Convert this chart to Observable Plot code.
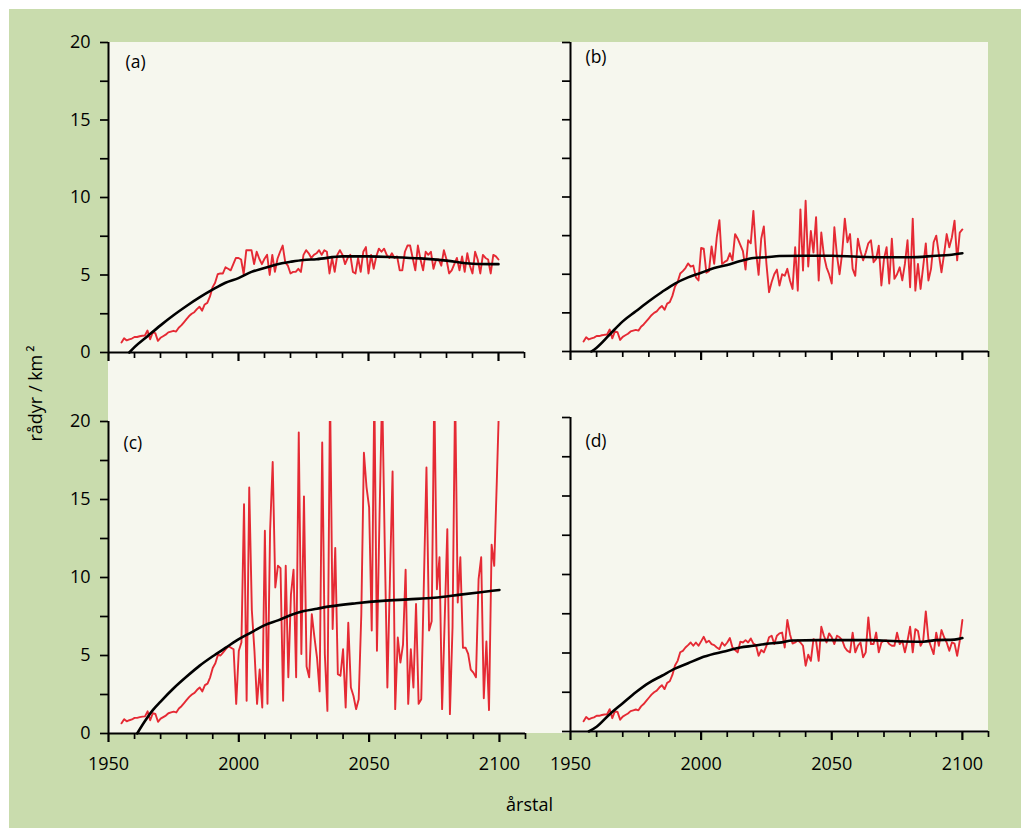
<!DOCTYPE html>
<html>
<head>
<meta charset="utf-8">
<script src="https://cdn.jsdelivr.net/npm/d3@7"></script>
<script src="https://cdn.jsdelivr.net/npm/@observablehq/plot@0.6"></script>
<style>
  body { margin: 0; background: #ffffff; }
  #wrap { position: relative; width: 1021px; height: 828px; overflow: hidden; }
  #green { position: absolute; left: 9px; top: 9px; right: 0; bottom: 0; background: #c9dcad; }
  #light { position: absolute; left: 108px; top: 42px; width: 880px; height: 691px; background: #f6f7ee; }
  #wrap > svg { position: absolute; left: 0; top: 0; }
</style>
</head>
<body>
<div id="wrap"><div id="green"></div><div id="light"></div></div>
<script>
// ---------- data ----------
const RED_START = 1955;          // first simulated year (red series)
const FUTURE_START = 1993;       // year where the four scenarios diverge

// common history 1955–1992
const redHistory = [0.65,0.92,0.78,0.85,0.9,
  1.0,1.0,1.05,1.08,1.1,1.42,0.85,1.3,1.25,0.75,
  0.95,1.05,1.15,1.3,1.35,1.4,1.35,1.6,1.75,1.95,
  2.15,2.35,2.5,2.6,2.8,2.95,2.7,3.1,3.2,3.6,
  4.2,4.5,5.05];

// scenario (a) 1993–2100
const redA = [5.1,5.1,5.5,5.4,5.3,5.7,6.1,
  6.1,6.0,5.05,6.6,6.6,6.6,5.7,6.5,6.05,5.7,
  6.05,6.3,5.0,6.3,5.2,6.05,6.5,6.9,5.8,5.6,
  5.1,5.2,5.2,5.4,5.2,6.3,6.6,6.4,6.1,6.3,
  6.4,6.6,6.3,6.6,6.5,5.1,6.1,5.2,6.3,6.6,
  6.3,5.7,6.1,6.3,5.2,5.1,6.1,5.2,6.5,6.8,
  5.1,6.3,5.4,6.2,6.7,6.5,6.7,6.3,6.1,6.4,
  6.1,6.2,5.3,5.3,6.5,6.9,6.9,6.1,5.3,6.9,
  6.0,5.3,6.5,6.3,6.5,5.4,6.0,6.0,5.6,6.6,
  6.0,5.1,5.3,5.7,6.1,5.3,6.2,5.2,6.4,5.6,
  5.1,6.5,6.0,5.1,6.3,6.1,6.0,5.1,6.3,6.2,
  6.0];

// scenario (b) 1993–2100
const redB = [5.2,5.4,5.7,5.5,5.56,4.8,4.6,
  6.7,6.65,5.1,5.2,6.8,5.67,7.4,8.5,5.67,5.8,
  5.9,6.36,5.9,7.6,7.3,6.9,6.5,5.3,7.2,7.0,
  9.1,6.5,4.96,7.3,8.1,5.67,3.84,4.5,5.0,5.3,
  4.27,5.0,4.9,5.35,4.6,4.05,6.75,3.94,9.2,5.24,
  9.76,5.5,7.8,6.4,8.7,4.6,7.7,6.2,5.45,5.0,
  4.4,8.04,6.2,5.0,6.4,8.6,7.07,7.6,5.35,4.9,
  7.3,6.5,5.9,6.4,7.0,7.2,5.78,6.0,6.85,4.27,
  6.0,6.75,4.4,7.3,4.7,5.0,5.45,4.6,5.67,7.2,
  4.16,8.6,3.94,5.67,4.05,5.5,7.0,4.6,5.35,7.07,
  7.5,6.3,5.13,6.3,7.6,6.75,7.4,8.47,5.9,7.7,
  7.9];

// scenario (c) 1993–2100 (values above 20 leave the panel)
const redC = [5.0,5.2,5.4,5.6,5.5,5.4,1.9,
  5.3,5.83,14.7,2.1,15.77,7.9,5.3,1.9,4.1,1.67,
  13.0,1.9,13.0,17.4,9.36,10.75,10.6,2.1,10.75,3.6,
  8.9,10.5,3.6,19.3,5.1,15.2,4.3,3.6,7.65,6.2,
  4.87,2.7,18.65,5.1,1.45,22,6.7,11.9,3.8,3.7,
  5.4,1.67,7.1,2.95,2.4,1.56,2.2,7.65,18.0,15.8,
  14.5,6.6,22,5.3,14,22,12,2.95,10,16.8,
  1.56,6.15,4.55,5.7,10.5,1.9,5.4,2.95,8.3,1.9,
  2.2,9.6,17.05,6.6,7.2,22,9.25,11.3,1.56,7.3,
  13.1,1.24,6.8,22,8.4,11.3,5.5,5.5,5.1,4.1,
  3.9,3.6,9.9,11.3,2.26,5.9,1.5,12.1,10.75,16.2,
  22];

// scenario (d) 1993–2100
const redD = [5.14,5.35,5.5,5.67,5.46,5.67,5.46,
  5.74,6.03,5.67,5.78,5.57,5.5,5.35,5.25,5.67,5.46,
  5.67,5.95,5.35,5.19,5.04,5.72,5.67,5.82,5.67,5.93,
  5.6,5.5,4.82,5.19,5.04,5.46,6.0,6.1,5.57,6.1,
  6.25,6.3,5.35,7.1,6.2,5.6,5.67,5.82,5.67,5.46,
  4.19,4.89,4.5,5.88,5.78,4.5,6.67,6.1,5.67,6.25,
  6.0,5.57,6.1,6.0,5.82,5.35,5.14,5.04,6.3,5.04,
  5.46,5.67,4.72,5.04,7.27,5.57,5.57,6.3,5.04,5.67,
  5.78,5.8,5.57,5.46,5.46,6.3,5.57,5.78,5.04,5.78,
  6.67,5.04,6.52,6.4,5.46,5.78,7.65,5.88,5.4,4.93,
  6.3,5.46,6.46,6.0,5.67,5.14,5.67,5.6,4.82,5.78,
  7.1];

// smooth (black) curves
const blackAYears = [1958,1960,1965,1970,1975,1980,1985,1990,1995,2000,2005,2010,2015,2020,2025,2030,2040,2050,2060,2070,2080,2090,2100];
const blackAVals  = [0,0.35,1.05,1.75,2.4,3.0,3.55,4.05,4.5,4.8,5.2,5.45,5.7,5.85,5.97,6.02,6.2,6.2,6.15,6.07,5.93,5.73,5.7];
const blackBYears = [1958,1960,1965,1970,1975,1980,1985,1990,1995,2000,2005,2010,2015,2020,2025,2030,2040,2050,2060,2070,2080,2090,2095,2100];
const blackBVals  = [0,0.25,1.1,1.95,2.6,3.25,3.85,4.4,4.8,5.1,5.4,5.6,5.85,6.05,6.1,6.18,6.2,6.2,6.13,6.1,6.1,6.2,6.25,6.36];
const blackCYears = [1961,1964,1967,1970,1975,1980,1985,1990,1995,2000,2005,2010,2015,2020,2025,2030,2035,2045,2055,2065,2075,2085,2092,2100];
const blackCVals  = [0,0.8,1.5,2.05,2.9,3.65,4.35,4.95,5.5,6.05,6.5,6.95,7.25,7.6,7.85,8.0,8.15,8.35,8.5,8.6,8.7,8.9,9.04,9.2];
const blackDYears = [1957,1960,1965,1970,1975,1980,1985,1990,1995,2000,2005,2010,2015,2020,2025,2030,2035,2045,2065,2075,2085,2090,2097,2100];
const blackDVals  = [0,0.3,1.1,1.8,2.5,3.1,3.55,4.0,4.35,4.7,4.95,5.15,5.35,5.46,5.58,5.66,5.8,5.82,5.82,5.75,5.72,5.82,5.85,5.95];

// axes
const yTickValues  = [0,2.5,5,7.5,10,12.5,15,17.5,20];
const yLabelValues = [0,5,10,15,20];
const xMinorValues = [1960,1970,1980,1990,2010,2020,2030,2040,2060,2070,2080,2090,2110];
const xMajorValues = [1950,2000,2050,2100];
const panelTags = ["(a)","(b)","(c)","(d)"];
const xTitle = "årstal";
const yTitle = "rådyr / km\u2009²";

// ---------- build ----------
const W = 1021, H = 828;
const RED = "#e52a34";
const table = (start, vals) => vals.map((v, i) => ({year: start + i, value: v}));
const pairs = (ys, vs) => ys.map((y, i) => ({year: y, value: vs[i]}));

function panel({red, black, frame, tag, tagDx, tagDy, yLabels, xLabels, extra = []}) {
  const [left, right, top, bottom] = frame;
  return Plot.plot({
    width: W, height: H,
    marginLeft: left, marginRight: W - right, marginTop: top, marginBottom: H - bottom,
    x: {domain: [1950, 2110], label: null},
    y: {domain: [0, 20], label: null},
    style: {background: "transparent", fontFamily: "'Open Sans', sans-serif", fontSize: "18px", color: "#000", overflow: "visible"},
    marks: [
      Plot.line(red, {x: "year", y: "value", stroke: RED, strokeWidth: 1.9, clip: true}),
      Plot.line(black, {x: "year", y: "value", stroke: "#000", strokeWidth: 2.6, curve: "monotone-x"}),
      Plot.ruleY([0], {stroke: "#000", strokeWidth: 2}),
      Plot.ruleX([1950], {stroke: "#000", strokeWidth: 2}),
      Plot.axisY(yTickValues, {tickSize: 8, strokeWidth: 1.7, fill: "none", label: null}),
      yLabels ? Plot.axisY(yLabelValues, {tickSize: 0, tickPadding: 18, label: null, tickFormat: d => String(d)}) : null,
      Plot.axisX(xMinorValues, {tickSize: 6, strokeWidth: 1.7, fill: "none", label: null}),
      Plot.axisX(xMajorValues, {tickSize: 9, strokeWidth: 2.2, fill: "none", label: null}),
      xLabels ? Plot.axisX(xMajorValues, {tickSize: 0, tickPadding: 757 - bottom, label: null, tickFormat: d => String(d)}) : null,
      Plot.text([tag], {frameAnchor: "top-left", dx: tagDx, dy: tagDy, textAnchor: "start", lineAnchor: "top", fontSize: 17.5}),
      ...extra
    ]
  });
}

const wrap = document.getElementById("wrap");

wrap.appendChild(panel({
  red: table(RED_START, redHistory.concat(redA)),
  black: pairs(blackAYears, blackAVals),
  frame: [108, 524, 42, 352], tag: panelTags[0], tagDx: 17, tagDy: 13,
  yLabels: true, xLabels: false,
  extra: [Plot.text([yTitle], {frameAnchor: "top-left", dx: -72, dy: 351, rotate: -90, textAnchor: "middle", lineAnchor: "middle", fontSize: 18})]
}));

wrap.appendChild(panel({
  red: table(RED_START, redHistory.concat(redB)),
  black: pairs(blackBYears, blackBVals),
  frame: [570, 988, 42, 351], tag: panelTags[1], tagDx: 15, tagDy: 8,
  yLabels: false, xLabels: false
}));

wrap.appendChild(panel({
  red: table(RED_START, redHistory.concat(redC)),
  black: pairs(blackCYears, blackCVals),
  frame: [108, 525, 421, 733], tag: panelTags[2], tagDx: 15, tagDy: 15,
  yLabels: true, xLabels: true,
  extra: [Plot.text([xTitle], {frameAnchor: "bottom-left", dx: 421, dy: 65, textAnchor: "middle", lineAnchor: "top", fontSize: 18})]
}));

wrap.appendChild(panel({
  red: table(RED_START, redHistory.concat(redD)),
  black: pairs(blackDYears, blackDVals),
  frame: [570, 988, 417, 731], tag: panelTags[3], tagDx: 15, tagDy: 17,
  yLabels: false, xLabels: true
}));
</script>
</body>
</html>
